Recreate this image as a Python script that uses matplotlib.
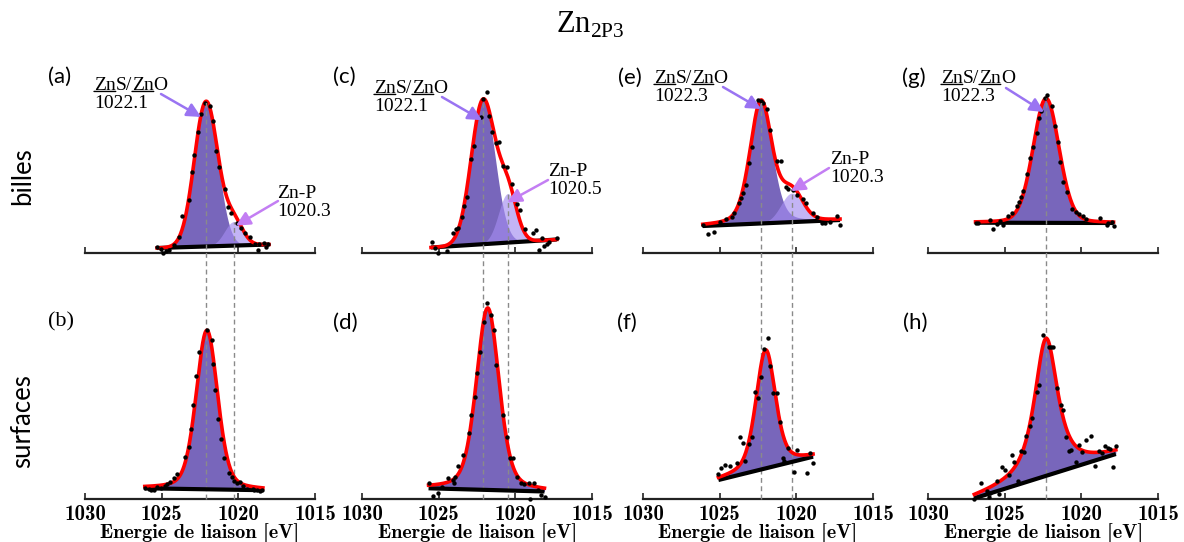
import numpy as np
import matplotlib.pyplot as plt

# Zn 2p3/2 XPS spectra
# binding energy in eV, intensity in arbitrary units

# (a) billes
energy_a = [1025.30, 1025.06, 1024.93, 1024.72, 1024.50, 1024.17, 1023.85, 1023.65, 1023.22,
            1023.04, 1022.89, 1022.63, 1022.43, 1022.17, 1021.85, 1021.63, 1021.45, 1021.26,
            1020.85, 1020.65, 1020.46, 1020.11, 1019.84, 1019.56, 1019.24, 1018.91, 1018.70,
            1018.63, 1018.32, 1018.19, 1018.04]
counts_a = [0.60, 0.37, 0.03, 0.23, 0.30, 0.80, 1.57, 3.70, 5.30,
            8.13, 9.80, 12.07, 13.90, 14.97, 14.70, 13.20, 10.20, 8.57,
            6.40, 4.63, 4.03, 2.97, 2.47, 2.03, 1.63, 0.90, 0.30,
            0.90, 1.03, 0.63, 0.90]

# (b) surfaces
energy_b = [1026.06, 1025.85, 1025.68, 1025.50, 1025.31, 1025.05, 1024.81, 1024.62, 1024.44,
            1024.19, 1023.99, 1023.46, 1023.24, 1023.11, 1022.94, 1022.74, 1022.56, 1022.06,
            1021.74, 1021.64, 1021.49, 1021.32, 1021.14, 1020.94, 1020.61, 1020.44, 1020.27,
            1020.07, 1019.89, 1019.69, 1019.45, 1019.07, 1018.95, 1018.77, 1018.60, 1018.44]
counts_b = [1.07, 1.00, 0.90, 0.95, 1.17, 1.15, 1.30, 1.50, 1.73,
            2.07, 2.50, 4.17, 5.23, 6.97, 9.40, 12.30, 14.73, 16.90,
            15.90, 13.50, 10.90, 7.97, 5.97, 4.07, 2.57, 2.17, 1.80,
            1.57, 1.70, 1.30, 1.03, 0.97, 0.95, 0.90, 0.85, 0.90]

# (c) billes
energy_c = [1025.45, 1025.24, 1025.02, 1024.47, 1024.04, 1023.87, 1023.72, 1023.50, 1023.33,
            1023.17, 1022.89, 1022.67, 1022.26, 1022.09, 1021.87, 1021.70, 1021.54, 1021.26,
            1021.08, 1020.78, 1020.52, 1020.24, 1019.87, 1019.69, 1019.37, 1018.86, 1018.67,
            1018.43, 1018.28, 1018.13, 1017.95, 1017.78, 1017.30]
counts_c = [1.07, 0.53, -0.03, 0.20, 1.97, 2.40, 2.47, 3.63, 4.70,
            5.63, 9.40, 10.73, 13.63, 15.40, 16.07, 13.73, 12.13, 10.97,
            11.13, 8.73, 8.60, 6.87, 4.90, 4.30, 2.40, 2.03, 2.30,
            0.30, 1.47, 0.73, 0.87, 1.07, 1.47]

# (d) surfaces
energy_d = [1025.66, 1025.40, 1025.03, 1024.78, 1024.40, 1024.08, 1023.98, 1023.91, 1023.71,
            1023.40, 1023.03, 1022.86, 1022.65, 1022.48, 1022.28, 1022.04, 1021.86, 1021.59,
            1021.41, 1021.23, 1020.83, 1020.53, 1020.34, 1020.16, 1019.86, 1019.66, 1019.41,
            1019.09, 1019.04, 1018.79, 1018.54, 1018.34, 1018.09]
counts_d = [1.57, 0.33, 0.57, 1.23, 2.07, 1.90, 1.57, 2.23, 3.33,
            4.40, 6.57, 8.40, 10.23, 12.63, 14.73, 17.67, 19.57, 18.40,
            16.90, 13.40, 8.40, 6.23, 4.07, 4.07, 2.23, 1.63, 1.50,
            1.63, 0.00, 1.63, 0.90, 0.40, 0.23]

# (e) billes
energy_e = [1026.11, 1025.74, 1025.37, 1024.98, 1024.59, 1024.21, 1024.06, 1023.72, 1023.63,
            1023.50, 1023.28, 1023.08, 1022.91, 1022.48, 1022.30, 1022.19, 1021.89, 1021.72,
            1021.24, 1021.02, 1020.69, 1020.52, 1020.20, 1019.97, 1019.54, 1019.39, 1018.89,
            1018.67, 1018.34, 1018.13, 1017.80, 1017.36, 1017.15]
counts_e = [2.80, 1.90, 2.13, 3.13, 3.37, 3.57, 3.97, 5.03, 5.53,
            5.97, 6.80, 9.03, 10.63, 15.30, 15.20, 14.97, 14.40, 12.30,
            9.23, 9.20, 6.63, 6.40, 6.30, 5.80, 5.37, 5.03, 3.97,
            3.57, 3.03, 3.03, 3.13, 3.70, 2.80]

# (f) surfaces
energy_f = [1025.08, 1024.91, 1024.66, 1024.30, 1023.89, 1023.69, 1023.50, 1023.33, 1023.09,
            1022.89, 1022.72, 1022.48, 1022.31, 1022.11, 1021.87, 1021.70, 1021.51, 1021.27,
            1021.07, 1020.90, 1020.78, 1020.53, 1020.17, 1019.93, 1019.32, 1019.08, 1018.91]
counts_f = [2.47, 3.07, 3.40, 3.33, 3.63, 6.23, 5.57, 3.83, 5.50,
            6.23, 10.73, 10.07, 12.17, 14.97, 16.07, 13.33, 10.57, 10.63,
            7.73, 4.07, 3.83, 5.07, 2.73, 4.90, 2.57, 4.63, 3.57]

# (g) billes
energy_g = [1026.87, 1026.72, 1025.96, 1025.74, 1025.52, 1025.30, 1025.13, 1024.76, 1024.54,
            1024.22, 1024.06, 1023.95, 1023.78, 1023.56, 1023.35, 1023.17, 1022.91, 1022.74,
            1022.65, 1022.37, 1022.22, 1021.91, 1021.72, 1021.54, 1021.39, 1021.17, 1020.95,
            1020.59, 1020.35, 1020.13, 1019.91, 1019.69, 1018.78, 1018.34, 1018.23, 1018.02,
            1017.90]
counts_g = [3.00, 2.97, 3.30, 2.40, 2.87, 3.20, 2.80, 3.73, 3.97,
            4.73, 5.13, 5.63, 6.20, 7.87, 9.47, 10.63, 11.97, 13.47,
            14.20, 15.53, 15.80, 14.73, 12.73, 11.13, 9.13, 7.13, 6.13,
            4.37, 4.13, 3.87, 3.73, 3.40, 3.53, 2.80, 3.00, 3.13,
            2.70]

# (h) surfaces
energy_h = [1026.98, 1026.57, 1026.13, 1026.01, 1025.94, 1025.52, 1025.35, 1025.16, 1024.99,
            1024.72, 1024.55, 1024.36, 1024.14, 1023.94, 1023.77, 1023.58, 1023.33, 1023.22,
            1022.92, 1022.78, 1022.53, 1022.12, 1022.00, 1021.85, 1021.56, 1021.32, 1021.20,
            1020.98, 1020.78, 1020.67, 1020.35, 1020.18, 1019.98, 1019.69, 1019.37, 1019.13,
            1018.84, 1018.65, 1018.47, 1018.28, 1018.11, 1017.92, 1017.75]
counts_h = [0.05, 1.63, 0.83, 0.17, 0.63, 1.83, 0.50, 3.17, 2.90,
            2.40, 4.40, 3.73, 1.83, 4.80, 4.73, 6.30, 7.30, 8.07,
            10.73, 11.40, 16.40, 15.17, 15.17, 15.17, 11.07, 9.40, 8.90,
            6.23, 4.83, 4.90, 3.73, 5.40, 4.73, 5.90, 6.30, 3.30,
            4.83, 4.57, 5.30, 5.07, 4.97, 3.23, 5.30]

# fitted components: (name, centre eV, height, fwhm eV, lorentzian fraction)
fit_a = [('ZnS/ZnO', 1022.1, 14.5, 1.80, 0.0), ('Zn-P', 1020.3, 2.4, 1.40, 0.0)]
fit_b = [('ZnS/ZnO', 1022.05, 15.9, 1.65, 0.3)]
fit_c = [('ZnS/ZnO', 1022.1, 14.4, 1.83, 0.0), ('Zn-P', 1020.5, 4.9, 1.40, 0.0)]
fit_d = [('ZnS/ZnO', 1021.8, 18.2, 1.75, 0.35)]
fit_e = [('ZnS/ZnO', 1022.3, 12.3, 1.70, 0.3), ('Zn-P', 1020.3, 2.9, 1.65, 0.0)]
fit_f = [('ZnS/ZnO', 1022.0, 11.85, 1.50, 0.4)]
fit_g = [('ZnS/ZnO', 1022.3, 12.45, 2.00, 0.15)]
fit_h = [('ZnS/ZnO', 1022.3, 13.75, 1.80, 0.8)]

# linear background: (E start, I start, E end, I end)
bg_a = (1025.30, 0.50, 1018.00, 0.85)
bg_b = (1026.10, 1.07, 1018.40, 0.88)
bg_c = (1025.50, 0.55, 1017.30, 1.35)
bg_d = (1025.66, 1.07, 1018.10, 0.75)
bg_e = (1026.10, 2.70, 1017.15, 3.30)
bg_f = (1025.08, 1.90, 1018.91, 4.23)
bg_g = (1026.90, 3.03, 1017.90, 3.00)
bg_h = (1026.98, 0.07, 1017.75, 4.50)

panels = {
    'a': (energy_a, counts_a, fit_a, bg_a),
    'b': (energy_b, counts_b, fit_b, bg_b),
    'c': (energy_c, counts_c, fit_c, bg_c),
    'd': (energy_d, counts_d, fit_d, bg_d),
    'e': (energy_e, counts_e, fit_e, bg_e),
    'f': (energy_f, counts_f, fit_f, bg_f),
    'g': (energy_g, counts_g, fit_g, bg_g),
    'h': (energy_h, counts_h, fit_h, bg_h),
}

# ---------- layout (pixels) ----------
W, H = 1184, 542
cols_left = [85, 362, 643, 928]
col_width = 230
row_spine = [253, 499]
axes_h = 200
y_max = 20.0
px_per_unit = axes_h / y_max
letters = [['a', 'c', 'e', 'g'], ['b', 'd', 'f', 'h']]

fill_colors = ['#7866bb', '#a48cf0']
fill_alpha = [1.0, 0.65]
arrow_colors = {'ZnS/ZnO': '#9a74f2', 'Zn-P': '#c37ef3'}
name_pieces = {'ZnS/ZnO': [('Zn', True), ('S/', False), ('Zn', True), ('O', False)],
               'Zn-P': [('Zn-P', False)]}

# label placement for top row: component -> (text top-left px, arrow tail px, tip offset from peak top)
label_pos = {
    'a': {'ZnS/ZnO': ((94, 77), (161, 94), (0.33, -1.55)), 'Zn-P': ((277, 185), (278, 201), (-0.15, -0.4))},
    'c': {'ZnS/ZnO': ((374, 80), (442, 97), (0.07, -2.0)), 'Zn-P': ((548, 163), (548, 180), (0.02, -0.87))},
    'e': {'ZnS/ZnO': ((654, 70), (723, 87), (0.0, -0.86)), 'Zn-P': ((830, 151), (829, 168), (0.05, 0.2))},
    'g': {'ZnS/ZnO': ((941, 70), (1006, 88), (0.13, -1.37))},
}
letter_pos = {'a': (60, 77), 'c': (344, 77), 'e': (630, 78), 'g': (914, 78),
              'b': (61, 322), 'd': (345, 323), 'f': (627, 323), 'h': (915, 323)}

tick_font = dict(family=['cmb10', 'DejaVu Serif'], size=15)
label_font = dict(family=['Liberation Serif', 'DejaVu Serif'], size=14)


def fig_frac(x, y):
    return x / W, 1 - y / H


def pseudo_voigt(e, centre, height, fwhm, eta):
    x = (e - centre) / (fwhm / 2)
    return height * (eta / (1 + x ** 2) + (1 - eta) * np.exp(-np.log(2) * x ** 2))


def background(e, bg):
    return np.interp(e, [bg[2], bg[0]], [bg[3], bg[1]])


def draw_panel(ax, energy, counts, fit, bg):
    e = np.linspace(bg[0], bg[2], 400)
    base = background(e, bg)
    total = base.copy()
    for i, (name, c, h, w, eta) in enumerate(fit):
        comp = pseudo_voigt(e, c, h, w, eta)
        total = total + comp
        ax.fill_between(e, base, base + comp, color=fill_colors[i], alpha=fill_alpha[i],
                        lw=0, zorder=1 + i)
    ax.plot(e, base, color='k', lw=3, solid_capstyle='butt', zorder=4)
    ax.plot(e, total, color='#ff0000', lw=2.6, zorder=5)
    ax.scatter(energy, counts, s=10, color='k', linewidths=0, zorder=6, clip_on=False)


fig = plt.figure(figsize=(W / 100, H / 100), dpi=100)
axes = {}
for r in range(2):
    for c in range(4):
        ax = fig.add_axes([cols_left[c] / W, (H - row_spine[r]) / H, col_width / W, axes_h / H])
        ax.set_facecolor('none')
        ax.set_xlim(1030, 1015)
        ax.set_ylim(0, y_max)
        for s in ['top', 'left', 'right']:
            ax.spines[s].set_visible(False)
        ax.spines['bottom'].set_linewidth(1.6)
        ax.spines['bottom'].set_color('#222222')
        ax.set_yticks([])
        ax.set_xticks([1030, 1025, 1020, 1015])
        ax.tick_params(axis='x', direction='in', length=4, width=1.2, color='#222222', pad=4)
        if r == 0:
            ax.tick_params(labelbottom=False)
        else:
            for lab in ax.get_xticklabels():
                lab.set_fontfamily(tick_font['family'])
                lab.set_fontsize(tick_font['size'])
            ax.set_xlabel('Energie de liaison [eV]', fontfamily=tick_font['family'],
                          fontsize=14.5, labelpad=0)
        letter = letters[r][c]
        draw_panel(ax, *panels[letter])
        axes[letter] = ax

# dashed guide lines from top-row component peaks down to bottom-row axis
row_offset = (row_spine[1] - row_spine[0]) / px_per_unit
for c in range(4):
    top_letter, bot_letter = letters[0][c], letters[1][c]
    fit, bg = panels[top_letter][2], panels[top_letter][3]
    for name, centre, h, w, eta in fit:
        peak_top = background(np.array([centre]), bg)[0] + h
        axes[bot_letter].plot([centre, centre], [0, peak_top + row_offset], color='#8a8a8a',
                              lw=1.0, dashes=(3.5, 2.5), zorder=3, clip_on=False)

overlay = fig.add_axes([0, 0, 1, 1], zorder=10)
overlay.axis('off')
overlay.set_xlim(0, 1)
overlay.set_ylim(0, 1)


def write_label(x, y, name, value):
    prev = None
    first = None
    for piece, underline in name_pieces[name]:
        if prev is None:
            t = overlay.text(*fig_frac(x, y), piece, va='top', ha='left', **label_font)
            first = t
        else:
            t = overlay.annotate(piece, xy=(1, 1), xycoords=prev, va='top', ha='left', **label_font)
        if underline:
            overlay.annotate('', xy=(0, 0.15), xycoords=t, xytext=(1, 0.15), textcoords=t,
                             arrowprops=dict(arrowstyle='-', color='k', lw=1.0, shrinkA=0, shrinkB=0))
        prev = t
    overlay.annotate(value, xy=(0, 0), xycoords=first, xytext=(0, -1), textcoords='offset points',
                     va='top', ha='left', **label_font)


# peak labels and arrows on the top row
for letter, entries in label_pos.items():
    ax = axes[letter]
    fit, bg = panels[letter][2], panels[letter][3]
    for name, centre, h, w, eta in fit:
        (tx, ty), (ax_x, ax_y), (de, di) = entries[name]
        write_label(tx, ty, name, f'{centre:.1f}')
        peak_top = background(np.array([centre]), bg)[0] + h
        ax.annotate('', xy=(centre + de, peak_top + di), xycoords='data',
                    xytext=fig_frac(ax_x, ax_y), textcoords='figure fraction',
                    arrowprops=dict(arrowstyle='-|>,head_length=0.6,head_width=0.3',
                                    color=arrow_colors[name], lw=1.8, mutation_scale=14,
                                    shrinkA=0, shrinkB=0),
                    annotation_clip=False, zorder=8)

# panel letters
for letter, (x, y) in letter_pos.items():
    fam = ['Liberation Serif'] if letter == 'b' else ['Lato', 'DejaVu Sans']
    fig.text(*fig_frac(x, y), f'({letter})', ha='center', va='center', family=fam, fontsize=16)

# row labels
fig.text(*fig_frac(23, 176), 'billes', rotation=90, ha='center', va='center',
         family=['Lato', 'DejaVu Sans'], fontsize=18.5)
fig.text(*fig_frac(23, 421), 'surfaces', rotation=90, ha='center', va='center',
         family=['Lato', 'DejaVu Sans'], fontsize=18.5)

# title
fig.text(*fig_frac(590, 25), r'Zn$_{\mathregular{2P3}}$', ha='center', va='center',
         family=['Liberation Serif', 'DejaVu Serif'], fontsize=22)

fig.savefig('out.png', dpi=100, facecolor='white')
